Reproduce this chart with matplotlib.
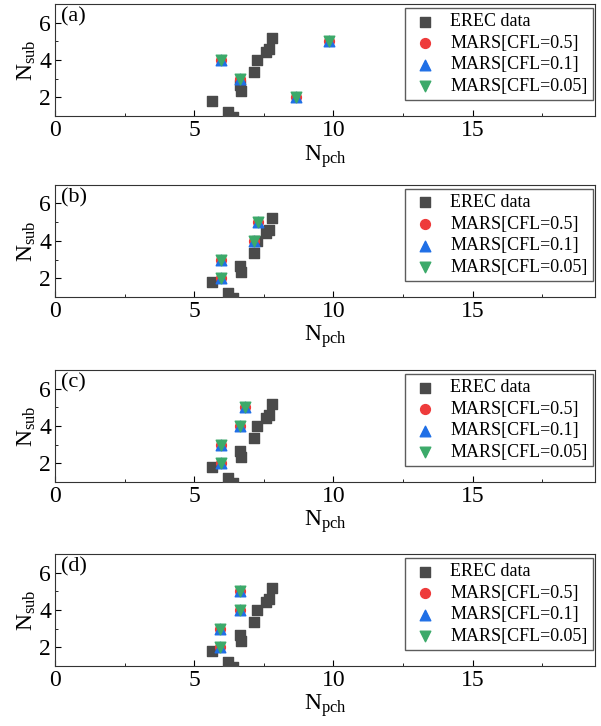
import matplotlib
matplotlib.use("Agg")
import matplotlib.pyplot as plt
from matplotlib.ticker import MultipleLocator

plt.rcParams['font.family'] = ['Liberation Serif', 'DejaVu Serif']
plt.rcParams['mathtext.fontset'] = 'custom'
plt.rcParams['mathtext.rm'] = 'Liberation Serif'
plt.rcParams['mathtext.it'] = 'Liberation Serif'

# EREC data (same in all panels)
erec_x = [5.63, 6.20, 6.40, 6.63, 6.69, 7.15, 7.26, 7.58, 7.67, 7.78]
erec_y = [1.82, 1.22, 0.95, 2.68, 2.36, 3.35, 4.00, 4.42, 4.60, 5.20]

panel_labels = ['(a)', '(b)', '(c)', '(d)']
# MARS results per panel (identical for the three CFL values)
mars_x = [
    [5.94, 6.63, 8.67, 9.85],
    [5.94, 5.94, 7.14, 7.30],
    [5.94, 5.94, 6.63, 6.82],
    [5.92, 5.92, 6.63, 6.63],
]
mars_y = [
    [4, 3, 2, 5],
    [3, 2, 4, 5],
    [3, 2, 4, 5],
    [3, 2, 4, 5],
]

fig = plt.figure(figsize=(6.01, 7.26), dpi=100)
left, width = 0.092, 0.898
bottoms = [0.840, 0.591, 0.336, 0.0826]
height = 0.1545

for i in range(4):
    ax = fig.add_axes([left, bottoms[i], width, height])
    ax.scatter(erec_x, erec_y, marker='s', s=62, color='#4a4a4a', label='EREC data', zorder=3)
    ax.scatter(mars_x[i], mars_y[i], marker='o', s=50, color='#ee3b3b', label='MARS[CFL=0.5]', zorder=4)
    ax.scatter(mars_x[i], mars_y[i], marker='^', s=58, color='#1f6fe6', label='MARS[CFL=0.1]', zorder=5)
    ax.scatter(mars_x[i], mars_y[i], marker='v', s=58, color='#3caa6a', label='MARS[CFL=0.05]', zorder=6)
    ax.set_xlim(0, 19.4)
    ax.set_ylim(1, 7)
    ax.xaxis.set_major_locator(MultipleLocator(5))
    ax.xaxis.set_minor_locator(MultipleLocator(2.5))
    ax.yaxis.set_major_locator(MultipleLocator(2))
    ax.yaxis.set_minor_locator(MultipleLocator(1))
    ax.tick_params(which='both', direction='in', labelsize=17, top=False, right=False)
    ax.tick_params(which='major', length=4, pad=3)
    ax.tick_params(which='minor', length=2)
    for sp in ax.spines.values():
        sp.set_color('#333333')
    ax.set_xlabel(r'N$_{\mathrm{pch}}$', fontsize=17, labelpad=1)
    ax.set_ylabel(r'N$_{\mathrm{sub}}$', fontsize=17, labelpad=1)
    ax.text(0.01, 0.97, panel_labels[i], transform=ax.transAxes, fontsize=16,
            va='top', ha='left')
    leg = ax.legend(loc='upper right', bbox_to_anchor=(0.996, 0.964), fontsize=13,
                    frameon=True, fancybox=False, edgecolor='#333333',
                    handletextpad=0.6, labelspacing=0.25, borderpad=0.3,
                    handlelength=1.6, borderaxespad=0.0)
    leg.get_frame().set_linewidth(1.0)

fig.savefig('out.png', dpi=100)
